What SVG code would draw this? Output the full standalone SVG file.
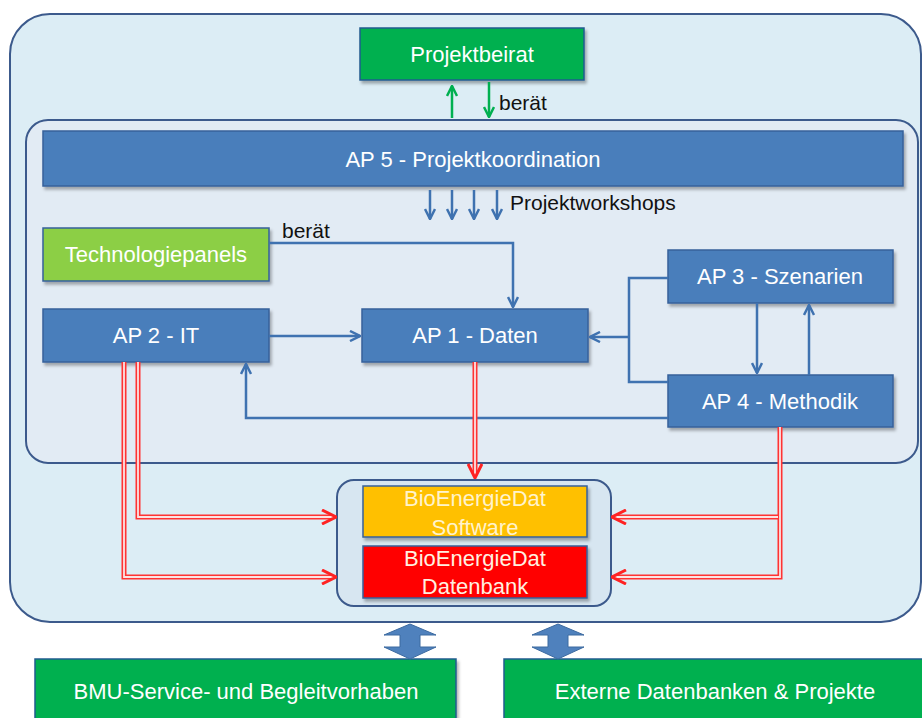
<svg xmlns="http://www.w3.org/2000/svg" width="922" height="718" viewBox="0 0 922 718">
<defs>
<style>
.lbl{font-family:"Liberation Sans",Arial,sans-serif;font-size:22px;fill:#ffffff;text-anchor:middle}
.dark{font-family:"Liberation Sans",Arial,sans-serif;font-size:21px;fill:#111111}
.blue{fill:#4a7ebb;stroke:#36609a;stroke-width:1.5}
.green{fill:#00b050;stroke:#1f5c8f;stroke-width:1.5}
.lgreen{fill:#8ccf45;stroke:#36609a;stroke-width:1.5}
.con{fill:none;stroke:#3f72b0;stroke-width:2.5}
.gcon{fill:none;stroke:#00b050;stroke-width:2.5}
.rout{fill:none;stroke:#ff3333;stroke-width:5}
.rin{fill:none;stroke:#fbe3e3;stroke-width:1.8}
</style>
<filter id="sh" x="-5%" y="-10%" width="115%" height="140%">
<feDropShadow dx="2" dy="3" stdDeviation="1.5" flood-color="#000" flood-opacity="0.3"/>
</filter>
<marker id="ab" viewBox="0 0 12 12" refX="11" refY="6" markerWidth="12" markerHeight="12" markerUnits="userSpaceOnUse" orient="auto">
<path d="M1,1 L11,6 L1,11" fill="none" stroke="#3f72b0" stroke-width="2.5"/>
</marker>
<marker id="ag" viewBox="0 0 12 12" refX="11" refY="6" markerWidth="12" markerHeight="12" markerUnits="userSpaceOnUse" orient="auto">
<path d="M1,1 L11,6 L1,11" fill="none" stroke="#00b050" stroke-width="2.5"/>
</marker>
<marker id="ar" viewBox="0 0 16 16" refX="15" refY="8" markerWidth="16" markerHeight="16" markerUnits="userSpaceOnUse" orient="auto">
<path d="M1,1 L15,8 L1,15" fill="none" stroke="#ff2222" stroke-width="3"/>
</marker>
</defs>

<g id="outer">
<rect x="10" y="14" width="911" height="608" rx="40" fill="#dcedf5" stroke="#3c5a8c" stroke-width="2"/>
</g>
<g id="inner">
<rect x="26" y="120" width="892" height="343" rx="22" fill="#e2ebf4" stroke="#3c5a8c" stroke-width="2"/>
</g>

<g id="projektbeirat">
<rect class="green" x="360" y="28" width="224" height="52" filter="url(#sh)"/>
<text class="lbl" x="472" y="62">Projektbeirat</text>
</g>

<g id="ap5">
<rect class="blue" x="43" y="131" width="860" height="55" filter="url(#sh)"/>
<text class="lbl" x="473" y="167">AP 5 - Projektkoordination</text>
</g>

<g id="technologiepanels">
<rect class="lgreen" x="43" y="228" width="226" height="53" filter="url(#sh)"/>
<text class="lbl" x="156" y="262">Technologiepanels</text>
</g>

<g id="ap2">
<rect class="blue" x="43" y="309" width="226" height="53" filter="url(#sh)"/>
<text class="lbl" x="156" y="343">AP 2 - IT</text>
</g>

<g id="ap1">
<rect class="blue" x="362" y="309" width="226" height="53" filter="url(#sh)"/>
<text class="lbl" x="475" y="343">AP 1 - Daten</text>
</g>

<g id="ap3">
<rect class="blue" x="668" y="250" width="225" height="53" filter="url(#sh)"/>
<text class="lbl" x="780" y="284">AP 3 - Szenarien</text>
</g>

<g id="ap4">
<rect class="blue" x="668" y="375" width="225" height="52" filter="url(#sh)"/>
<text class="lbl" x="780" y="409">AP 4 - Methodik</text>
</g>

<g id="bioenergiedat">
<rect x="337" y="480" width="274" height="126" rx="17" fill="#d7e6f1" stroke="#3c5a8c" stroke-width="2"/>
<rect x="363" y="486" width="224" height="51" fill="#ffc000" stroke="#36609a" stroke-width="1.5" filter="url(#sh)"/>
<text class="lbl" x="475" y="506" style="fill:#fff3cc">BioEnergieDat</text>
<text class="lbl" x="475" y="535" style="fill:#fff3cc">Software</text>
<rect x="363" y="546" width="224" height="52" fill="#ff0000" stroke="#36609a" stroke-width="1.5" filter="url(#sh)"/>
<text class="lbl" x="475" y="566" style="fill:#fff0e0">BioEnergieDat</text>
<text class="lbl" x="475" y="594" style="fill:#fff0e0">Datenbank</text>
</g>

<g id="bmu">
<rect class="green" x="35" y="659" width="421" height="70" filter="url(#sh)"/>
<text class="lbl" x="246" y="699">BMU-Service- und Begleitvorhaben</text>
</g>

<g id="extern">
<rect class="green" x="504" y="659" width="430" height="70" filter="url(#sh)"/>
<text class="lbl" x="715" y="699">Externe Datenbanken &amp; Projekte</text>
</g>

<g id="connectors">
<path class="gcon" d="M452,118 L452,86" marker-end="url(#ag)"/>
<path class="gcon" d="M489,82 L489,117" marker-end="url(#ag)"/>
<text class="dark" x="499" y="110">berät</text>
<path class="con" d="M430,190 L430,219" marker-end="url(#ab)"/>
<path class="con" d="M452,190 L452,219" marker-end="url(#ab)"/>
<path class="con" d="M474,190 L474,219" marker-end="url(#ab)"/>
<path class="con" d="M497,190 L497,219" marker-end="url(#ab)"/>
<text class="dark" x="510" y="210">Projektworkshops</text>
<path class="con" d="M269,243 L513,243 L513,307" marker-end="url(#ab)"/>
<text class="dark" x="282" y="238">berät</text>
<path class="con" d="M269,336 L360,336" marker-end="url(#ab)"/>
<path class="con" d="M668,278 L629,278 L629,382 L668,382"/>
<path class="con" d="M629,337 L590,337" marker-end="url(#ab)"/>
<path class="con" d="M757,303 L757,373" marker-end="url(#ab)"/>
<path class="con" d="M809,375 L809,305" marker-end="url(#ab)"/>
<path class="con" d="M668,418 L246,418 L246,364" marker-end="url(#ab)"/>
<path class="rout" d="M475,362 L475,474"/>
<path class="rin" d="M475,362 L475,474"/>
<path d="M475,470 L475,478" fill="none" stroke="none" marker-end="url(#ar)"/>
<path class="rout" d="M124,362 L124,577 L333,577"/>
<path class="rin" d="M124,362 L124,577 L333,577"/>
<path class="rout" d="M138,362 L138,517 L333,517"/>
<path class="rin" d="M138,362 L138,517 L333,517"/>
<path d="M330,577 L336,577" fill="none" stroke="none" marker-end="url(#ar)"/>
<path d="M330,517 L336,517" fill="none" stroke="none" marker-end="url(#ar)"/>
<path class="rout" d="M780,427 L780,577 L615,577"/>
<path class="rout" d="M780,517 L615,517"/>
<path class="rin" d="M780,427 L780,577 L615,577"/>
<path class="rin" d="M778,517 L615,517"/>
<path d="M618,577 L612,577" fill="none" stroke="none" marker-end="url(#ar)"/>
<path d="M618,517 L612,517" fill="none" stroke="none" marker-end="url(#ar)"/>
<polygon points="410,624 436,635 420,635 420,647 436,647 410,659 384,647 400,647 400,635 384,635" fill="#4f81bd" stroke="#3c6aa0" stroke-width="1"/>
<polygon points="558,624 584,635 568,635 568,647 584,647 558,659 532,647 548,647 548,635 532,635" fill="#4f81bd" stroke="#3c6aa0" stroke-width="1"/>
</g>
</svg>
